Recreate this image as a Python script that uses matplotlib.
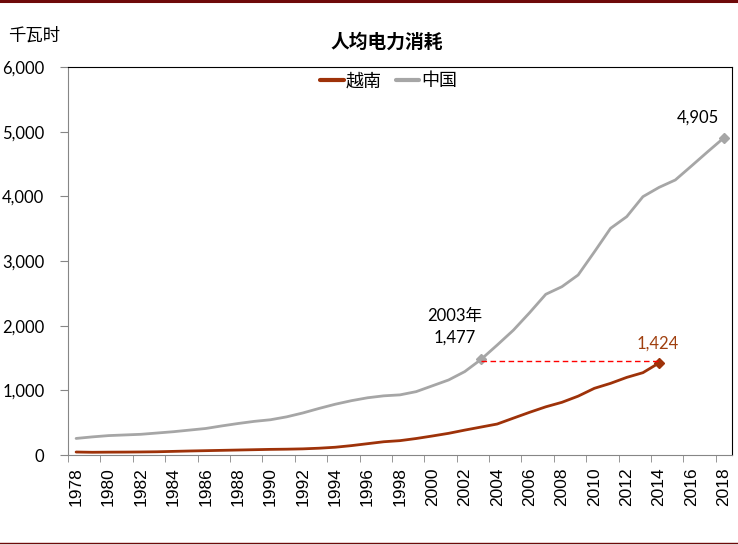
import matplotlib
matplotlib.use("Agg")
import matplotlib.pyplot as plt
from matplotlib.lines import Line2D
from matplotlib.ticker import FuncFormatter, MultipleLocator
import numpy as np

# per-capita electricity use, kWh
years = list(range(1978, 2019))
china = [256, 280, 300, 310, 320, 340, 360, 385, 410, 450,
         487, 520, 545, 590, 650, 720, 785, 840, 885, 915,
         930, 980, 1070, 1160, 1290, 1477, 1700, 1930, 2200, 2485,
         2603, 2784, 3140, 3505, 3686, 3995, 4139, 4253, 4470, 4690,
         4905]
vn_years = list(range(1978, 2015))
vietnam = [46, 42, 44, 45, 47, 50, 56, 62, 67, 72,
           77, 82, 87, 90, 95, 105, 120, 145, 175, 205,
           222, 255, 294, 335, 385, 432, 479, 570, 660, 745,
           815, 910, 1031, 1108, 1200, 1273, 1424]
labels = ["越南", "中国"]

CJK = ["Noto Sans CJK SC", "DejaVu Sans"]
NUM = ["Lato", "Noto Sans CJK SC"]
c_vn = "#9E3209"
c_cn = "#A6A6A6"

fig = plt.figure(figsize=(7.38, 5.45), dpi=100)
ax = fig.add_axes([68/738, 90/545, 664/738, 388/545])

ax.plot(vn_years, vietnam, color=c_vn, lw=2.0, label=labels[0], solid_capstyle="round")
ax.plot(years, china, color=c_cn, lw=2.0, label=labels[1], solid_capstyle="round")

i03 = years.index(2003)
ax.plot([2003], [china[i03]], marker="D", ms=5, color=c_cn)
ax.plot([years[-1]], [china[-1]], marker="D", ms=5, color=c_cn)
ax.plot([vn_years[-1]], [vietnam[-1]], marker="D", ms=5, color=c_vn)
ax.plot([2003, vn_years[-1]], [vietnam[-1] + 25, vietnam[-1] + 25],
        color="#FF0000", lw=1, ls=(0, (4, 2.5)))

ax.annotate(f"2003年\n{china[i03]:,}", xy=(2003, china[i03]), xytext=(-19, 10),
            textcoords="offset points", ha="center", va="bottom",
            family=NUM, fontsize=12, linespacing=1.45)
ax.annotate(f"{vietnam[-1]:,}", xy=(vn_years[-1], vietnam[-1]), xytext=(-1, 8),
            textcoords="offset points", ha="center", va="bottom",
            family=NUM, fontsize=12, color="#A0400F")
ax.annotate(f"{china[-1]:,}", xy=(years[-1], china[-1]), xytext=(-19, 9),
            textcoords="offset points", ha="center", va="bottom",
            family=NUM, fontsize=12)

ax.set_xlim(1977.5, 2018.5)
ax.set_ylim(0, 6000)
ax.yaxis.set_major_locator(MultipleLocator(1000))
ax.yaxis.set_major_formatter(FuncFormatter(lambda v, p: f"{int(v):,}"))
ax.set_xticks(years[::2])
ax.set_xticklabels([str(y) for y in years[::2]], rotation=90,
                   family="Liberation Sans", fontsize=12.5)
ax.set_xticks(np.arange(1977.5, 2018.6, 2), minor=True)
ax.tick_params(axis="x", which="major", length=0, pad=9)
ax.tick_params(axis="x", which="minor", length=5, color="#868686", direction="out")
ax.tick_params(axis="y", length=6, color="#868686", direction="out", pad=11)
for t in ax.get_yticklabels():
    t.set_family(NUM)
    t.set_fontsize(12)

for s in ["left", "bottom"]:
    ax.spines[s].set_color("#868686")
for s in ["top", "right"]:
    ax.spines[s].set_color("black")

leg = ax.legend(loc="center", bbox_to_anchor=(0.483, 0.963), ncol=2, frameon=False,
                prop={"family": CJK, "size": 13}, handlelength=1.3,
                handletextpad=0.1, columnspacing=0.8)
for h in leg.get_lines():
    h.set_linewidth(3)

fig.text(387/738, 1 - 42/545, "人均电力消耗", ha="center", va="center",
         family=CJK, fontsize=13.5, fontweight="bold")
fig.text(8/738, 1 - 36/545, "千瓦时", ha="left", va="center", family=CJK, fontsize=12.5)

fig.add_artist(Line2D([0, 1], [1 - 1.2/545, 1 - 1.2/545], color="#6E0A0A", lw=2.2))
fig.add_artist(Line2D([0, 1], [1.8/545, 1.8/545], color="#6E0A0A", lw=1.0))

fig.savefig("out.png", dpi=100)
